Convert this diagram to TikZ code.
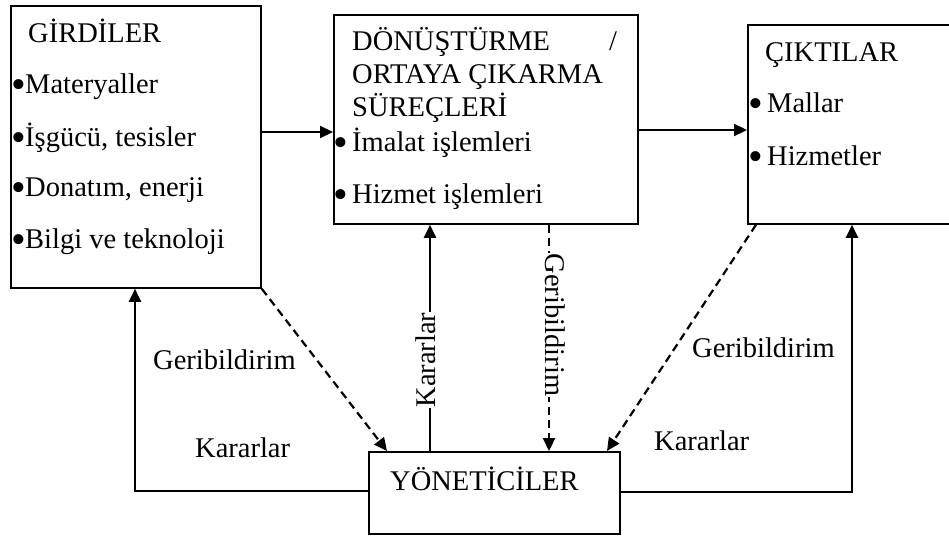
\documentclass[tikz,border=0pt]{standalone}
\usepackage{fontspec}
\setmainfont{Liberation Serif}
\usetikzlibrary{arrows.meta}
% large bullet set in a box of given width, text follows
\newcommand\blt[1]{\makebox[#1][l]{\raisebox{-5pt}{\fontsize{42}{42}\selectfont•}}}
\begin{document}
\begin{tikzpicture}[x=1pt,y=-1pt,
  box/.style={draw, line width=1.8pt, inner sep=0pt, anchor=north west},
  txt/.style={inner sep=0pt, anchor=base west, font=\fontsize{28.5}{34}\selectfont},
  conn/.style={line width=2.2pt, -{Triangle[length=13pt,width=12pt]}},
  fb/.style={conn, dash pattern=on 8pt off 5pt},
  vlab/.style={txt, anchor=base, fill=white, inner sep=1pt}
]
\useasboundingbox (0,0) rectangle (949,535);
\clip (0,0) rectangle (949,535);
\fill[white] (0,0) rectangle (949,535);

% the four blocks
\node[box, minimum width=250pt, minimum height=282pt] (inp) at (10,5) {};
\node[box, minimum width=304pt, minimum height=209pt] (proc) at (333,14) {};
\node[box, minimum width=215pt, minimum height=199pt] (outp) at (747,24) {};
\node[box, minimum width=251pt, minimum height=82pt] (mgr) at (368,451) {};

% inputs
\node[txt] (t1) at (28,42) {GİRDİLER};
\node[txt] (t2) at (11,93) {\blt{14pt}Materyaller};
\node[txt] (t3) at (11,146) {\blt{14pt}İşgücü, tesisler};
\node[txt] (t4) at (11,196) {\blt{14pt}Donatım, enerji};
\node[txt] (t5) at (11,248) {\blt{14pt}Bilgi ve teknoloji};

% transformation processes
\node[txt] (p1) at (352,51) {\makebox[265pt][l]{DÖNÜŞTÜRME\hfill/}};
\node[txt] (p2) at (352,83) {ORTAYA ÇIKARMA};
\node[txt] (p3) at (352,116) {SÜREÇLERİ};
\node[txt] (p4) at (333,151) {\blt{19pt}İmalat işlemleri};
\node[txt] (p5) at (333,203) {\blt{19pt}Hizmet işlemleri};

% outputs
\node[txt] (o1) at (765,62) {ÇIKTILAR};
\node[txt] (o2) at (748,112) {\blt{19pt}Mallar};
\node[txt] (o3) at (748,165) {\blt{19pt}Hizmetler};

% managers
\node[txt] (m1) at (390,490) {YÖNETİCİLER};

% loop labels
\node[txt] (lg) at (153,369) {Geribildirim};
\node[txt] (lk) at (195,457) {Kararlar};
\node[txt] (rg) at (692,357) {Geribildirim};
\node[txt] (rk) at (654,450) {Kararlar};

% helper coordinates for connector rows and columns
\coordinate (r1) at (0,132);
\coordinate (r2) at (0,130);
\coordinate (kl) at (135,491);
\coordinate (kr) at (852,492);
\coordinate (xk) at (430,0);
\coordinate (xg) at (549,0);
\coordinate (dl) at (387,0);
\coordinate (dr1) at (756,0);
\coordinate (dr2) at (607,0);

% main flow
\draw[conn] (inp.east |- r1) -- (proc.west |- r1);
\draw[conn] (proc.east |- r2) -- (outp.west |- r2);

% decisions
\draw[conn] (mgr.west |- kl) -| (inp.south -| kl);
\draw[conn] (mgr.east |- kr) -| (outp.south -| kr);
\draw[conn] (mgr.north -| xk) -- (proc.south -| xk);
\node[vlab, rotate=90] (vk) at (435,360) {Kararlar};

% feedback
\draw[fb] (proc.south -| xg) -- (mgr.north -| xg);
\node[vlab, rotate=-90] (vg) at (545,325) {Geribildirim};
\draw[fb] (inp.south east) -- (mgr.north -| dl);
\draw[fb] (outp.south -| dr1) -- (mgr.north -| dr2);
\end{tikzpicture}
\end{document}
